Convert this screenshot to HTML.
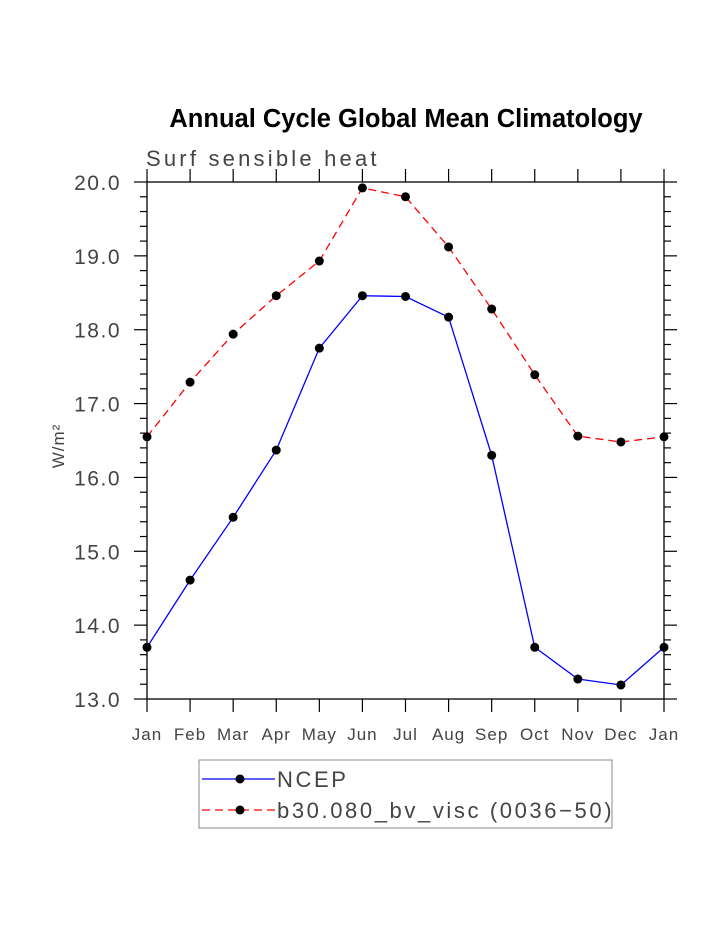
<!DOCTYPE html>
<html><head><meta charset="utf-8"><style>
body{margin:0;background:#fff;}
svg text{font-family:"Liberation Sans",sans-serif;}
</style></head><body>
<svg width="723" height="935">
<g id="root"></g>
</svg>
<script>
const months=["Jan","Feb","Mar","Apr","May","Jun","Jul","Aug","Sep","Oct","Nov","Dec","Jan"];
const ncep=[13.70,14.61,15.46,16.37,17.75,18.46,18.45,18.17,16.30,13.70,13.27,13.19,13.70];
const model=[16.55,17.29,17.94,18.46,18.93,19.92,19.80,19.12,18.28,17.39,16.56,16.48,16.55];
const yTicks=["13.0","14.0","15.0","16.0","17.0","18.0","19.0","20.0"];
const X0=147,X1=664,Y0=699,Y1=182,YMIN=13,YMAX=20;
const sx=i=>X0+(X1-X0)*i/(months.length-1);
const sy=v=>Y0-(v-YMIN)/(YMAX-YMIN)*(Y0-Y1);
const NS="http://www.w3.org/2000/svg";
const root=document.getElementById('root');
function mk(t,a,txt){const e=document.createElementNS(NS,t);for(const k in a)e.setAttribute(k,a[k]);if(txt!==undefined)e.textContent=txt;root.appendChild(e);return e;}
let e;
e=mk('text',{x:406,y:127,'text-anchor':'middle','font-size':25.5,'font-weight':'bold',fill:'#000'},'Annual Cycle Global Mean Climatology');


e=mk('text',{x:146,y:166,'font-size':22,fill:'#444','letter-spacing':'3.2'},'Surf sensible heat');


e=mk('rect',{x:X0,y:Y1,width:X1-X0,height:Y0-Y1,fill:'none',stroke:'#000','stroke-width':1.3});


for(let v=YMIN*5;v<=YMAX*5;v++){const y=sy(v/5);const maj=v%5===0;const L=maj?13:7;
 e=mk('line',{x1:X0-L,y1:y,x2:X0,y2:y,stroke:'#000','stroke-width':1.2});
 
 
 e=mk('line',{x1:X1,y1:y,x2:X1+L,y2:y,stroke:'#000','stroke-width':1.2});
 
 
}
yTicks.forEach(t=>{e=mk('text',{x:121,y:sy(parseFloat(t))+8,'text-anchor':'end','font-size':21,fill:'#444','letter-spacing':'1.5'},t);
 
 });
months.forEach((m,i)=>{const x=sx(i);
 e=mk('line',{x1:x,y1:Y0,x2:x,y2:Y0+13,stroke:'#000','stroke-width':1.2});
 
 
 e=mk('line',{x1:x,y1:Y1-13,x2:x,y2:Y1,stroke:'#000','stroke-width':1.2});
 
 
 e=mk('text',{x:x,y:740,'text-anchor':'middle','font-size':17,fill:'#444','letter-spacing':'1'},m);
 
 
});
e=mk('text',{x:0,y:0,transform:'translate(64,446) rotate(-90)','text-anchor':'middle','font-size':17,fill:'#444','letter-spacing':'1'},'W/m²');


function series(vals,color,dash,name){
 const pts=vals.map((v,i)=>sx(i)+','+sy(v)).join(' ');
 e=mk('polyline',{points:pts,fill:'none',stroke:color,'stroke-width':1.3,'stroke-dasharray':dash});
 
 
 vals.forEach((v,i)=>{e=mk('circle',{cx:sx(i),cy:sy(v),r:4.5,fill:'#000'});
  
  });
}
series(model,'#f00','8,5','model');
series(ncep,'#00f','none','ncep');
e=mk('rect',{x:199,y:760,width:413,height:68,fill:'none',stroke:'#888','stroke-width':1});


[[779,'#00f','none','NCEP'],[810,'#f00','8,5','b30.080_bv_visc (0036\u221250)']].forEach(([y,c,d,t])=>{
 e=mk('line',{x1:202,y1:y,x2:275,y2:y,stroke:c,'stroke-width':1.3,'stroke-dasharray':d});
 
 
 e=mk('circle',{cx:240,cy:y,r:4.5,fill:'#000'});
 
 
 e=mk('text',{x:277,y:y+8,'font-size':22,fill:'#444','letter-spacing':'2.6'},t);
 
 
});
</script>
</body></html>
